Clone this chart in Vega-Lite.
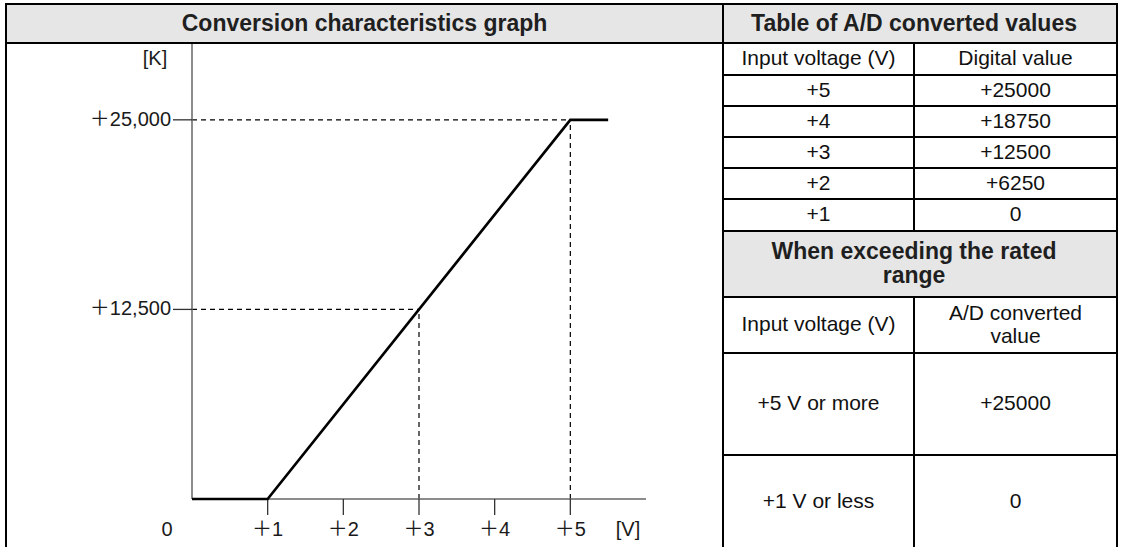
{
  "$schema": "https://vega.github.io/schema/vega-lite/v6.json",
  "width": 1121,
  "height": 547,
  "autosize": {"type": "none"},
  "padding": 0,
  "background": "white",
  "config": {"view": {"stroke": null}},
  "datasets": {
    "cells": [
      {"c0": 0, "c1": 1, "r0": 0, "r1": 1, "kind": "head", "label": "Conversion characteristics graph"},
      {"c0": 1, "c1": 3, "r0": 0, "r1": 1, "kind": "head", "label": "Table of A/D converted values"},
      {"c0": 0, "c1": 1, "r0": 1, "r1": 11, "kind": "body", "label": ""},
      {"c0": 1, "c1": 2, "r0": 1, "r1": 2, "kind": "body", "label": "Input voltage (V)"},
      {"c0": 2, "c1": 3, "r0": 1, "r1": 2, "kind": "body", "label": "Digital value"},
      {"c0": 1, "c1": 2, "r0": 2, "r1": 3, "kind": "body", "label": "+5"},
      {"c0": 2, "c1": 3, "r0": 2, "r1": 3, "kind": "body", "label": "+25000"},
      {"c0": 1, "c1": 2, "r0": 3, "r1": 4, "kind": "body", "label": "+4"},
      {"c0": 2, "c1": 3, "r0": 3, "r1": 4, "kind": "body", "label": "+18750"},
      {"c0": 1, "c1": 2, "r0": 4, "r1": 5, "kind": "body", "label": "+3"},
      {"c0": 2, "c1": 3, "r0": 4, "r1": 5, "kind": "body", "label": "+12500"},
      {"c0": 1, "c1": 2, "r0": 5, "r1": 6, "kind": "body", "label": "+2"},
      {"c0": 2, "c1": 3, "r0": 5, "r1": 6, "kind": "body", "label": "+6250"},
      {"c0": 1, "c1": 2, "r0": 6, "r1": 7, "kind": "body", "label": "+1"},
      {"c0": 2, "c1": 3, "r0": 6, "r1": 7, "kind": "body", "label": "0"},
      {"c0": 1, "c1": 3, "r0": 7, "r1": 8, "kind": "head", "label": ["When exceeding the rated", "range"]},
      {"c0": 1, "c1": 2, "r0": 8, "r1": 9, "kind": "body", "label": "Input voltage (V)"},
      {"c0": 2, "c1": 3, "r0": 8, "r1": 9, "kind": "body", "label": ["A/D converted", "value"]},
      {"c0": 1, "c1": 2, "r0": 9, "r1": 10, "kind": "body", "label": "+5 V or more"},
      {"c0": 2, "c1": 3, "r0": 9, "r1": 10, "kind": "body", "label": "+25000"},
      {"c0": 1, "c1": 2, "r0": 10, "r1": 11, "kind": "body", "label": "+1 V or less"},
      {"c0": 2, "c1": 3, "r0": 10, "r1": 11, "kind": "body", "label": "0"}
    ],
    "curve": [
      {"v": 0, "k": 0},
      {"v": 1, "k": 0},
      {"v": 5, "k": 25000},
      {"v": 5.5, "k": 25000}
    ],
    "guides": [
      {"v": 0, "v2": 5, "k": 25000, "k2": 25000},
      {"v": 5, "v2": 5, "k": 0, "k2": 25000},
      {"v": 0, "v2": 3, "k": 12500, "k2": 12500},
      {"v": 3, "v2": 3, "k": 0, "k2": 12500}
    ],
    "axes": [
      {"v": 0, "v2": 6, "k": 0, "k2": 0},
      {"v": 0, "v2": 0, "k": 0, "k2": 30000}
    ],
    "yticks": [
      {"v": 0, "k": 12500, "label": "＋12,500"},
      {"v": 0, "k": 25000, "label": "＋25,000"}
    ],
    "xticks": [
      {"v": 1, "k": 0, "label": "＋1"},
      {"v": 2, "k": 0, "label": "＋2"},
      {"v": 3, "k": 0, "label": "＋3"},
      {"v": 4, "k": 0, "label": "＋4"},
      {"v": 5, "k": 0, "label": "＋5"}
    ],
    "origin": [{"v": 0, "k": 0, "label": "0"}],
    "vunit": [{"v": 6, "k": 0, "label": "[V]"}],
    "kunit": [{"v": 0, "k": 30000, "label": "[K]"}]
  },
  "layer": [
    {
      "data": {"name": "cells"},
      "transform": [
        {"calculate": "(datum.c0 + datum.c1) / 2", "as": "cx"},
        {"calculate": "(datum.r0 + datum.r1) / 2", "as": "cy"}
      ],
      "layer": [
        {
          "mark": {"type": "rect", "stroke": "#000000", "strokeWidth": 2},
          "encoding": {
            "x": {"field": "c0", "type": "quantitative", "axis": null, "scale": {"domain": [0, 1, 2, 3], "range": [6, 723, 914, 1117], "zero": false, "nice": false}},
            "x2": {"field": "c1"},
            "y": {"field": "r0", "type": "quantitative", "axis": null, "scale": {"domain": [0, 1, 2, 3, 4, 5, 6, 7, 8, 9, 10, 11], "range": [4, 43, 75, 106, 137, 168, 199, 231, 297, 353, 455, 549], "zero": false, "nice": false}},
            "y2": {"field": "r1"},
            "color": {"field": "kind", "type": "nominal", "legend": null, "scale": {"domain": ["head", "body"], "range": ["#e6e6e6", "#ffffff"]}}
          }
        },
        {
          "transform": [{"filter": "datum.kind === 'head' && !isArray(datum.label)"}],
          "mark": {"type": "text", "font": "Liberation Sans", "fontSize": 23, "fontWeight": "bold", "color": "#1f1f1f", "align": "center", "baseline": "middle"},
          "encoding": {
            "x": {"field": "cx", "type": "quantitative", "axis": null, "scale": {"domain": [0, 1, 2, 3], "range": [6, 723, 914, 1117], "zero": false, "nice": false}},
            "y": {"field": "cy", "type": "quantitative", "axis": null, "scale": {"domain": [0, 1, 2, 3, 4, 5, 6, 7, 8, 9, 10, 11], "range": [4, 43, 75, 106, 137, 168, 199, 231, 297, 353, 455, 549], "zero": false, "nice": false}},
            "text": {"field": "label"}
          }
        },
        {
          "transform": [{"filter": "datum.kind === 'head' && isArray(datum.label)"}],
          "mark": {"type": "text", "font": "Liberation Sans", "fontSize": 23, "fontWeight": "bold", "color": "#1f1f1f", "align": "center", "baseline": "middle", "lineHeight": 24, "dy": -12},
          "encoding": {
            "x": {"field": "cx", "type": "quantitative", "axis": null, "scale": {"domain": [0, 1, 2, 3], "range": [6, 723, 914, 1117], "zero": false, "nice": false}},
            "y": {"field": "cy", "type": "quantitative", "axis": null, "scale": {"domain": [0, 1, 2, 3, 4, 5, 6, 7, 8, 9, 10, 11], "range": [4, 43, 75, 106, 137, 168, 199, 231, 297, 353, 455, 549], "zero": false, "nice": false}},
            "text": {"field": "label"}
          }
        },
        {
          "transform": [{"filter": "datum.kind === 'body' && !isArray(datum.label)"}],
          "mark": {"type": "text", "font": "Liberation Sans", "fontSize": 21, "color": "#111111", "align": "center", "baseline": "middle"},
          "encoding": {
            "x": {"field": "cx", "type": "quantitative", "axis": null, "scale": {"domain": [0, 1, 2, 3], "range": [6, 723, 914, 1117], "zero": false, "nice": false}},
            "y": {"field": "cy", "type": "quantitative", "axis": null, "scale": {"domain": [0, 1, 2, 3, 4, 5, 6, 7, 8, 9, 10, 11], "range": [4, 43, 75, 106, 137, 168, 199, 231, 297, 353, 455, 549], "zero": false, "nice": false}},
            "text": {"field": "label"}
          }
        },
        {
          "transform": [{"filter": "datum.kind === 'body' && isArray(datum.label)"}],
          "mark": {"type": "text", "font": "Liberation Sans", "fontSize": 21, "color": "#111111", "align": "center", "baseline": "middle", "lineHeight": 23, "dy": -11},
          "encoding": {
            "x": {"field": "cx", "type": "quantitative", "axis": null, "scale": {"domain": [0, 1, 2, 3], "range": [6, 723, 914, 1117], "zero": false, "nice": false}},
            "y": {"field": "cy", "type": "quantitative", "axis": null, "scale": {"domain": [0, 1, 2, 3, 4, 5, 6, 7, 8, 9, 10, 11], "range": [4, 43, 75, 106, 137, 168, 199, 231, 297, 353, 455, 549], "zero": false, "nice": false}},
            "text": {"field": "label"}
          }
        }
      ]
    },
    {
      "layer": [
        {
          "data": {"name": "guides"},
          "mark": {"type": "rule", "color": "#000000", "strokeWidth": 1.2, "strokeDash": [5, 4]},
          "encoding": {
            "x": {"field": "v", "type": "quantitative", "axis": null, "scale": {"domain": [0, 6], "range": [192, 646], "zero": false, "nice": false}},
            "x2": {"field": "v2"},
            "y": {"field": "k", "type": "quantitative", "axis": null, "scale": {"domain": [0, 30000], "range": [499, 44], "zero": false, "nice": false}},
            "y2": {"field": "k2"}
          }
        },
        {
          "data": {"name": "axes"},
          "mark": {"type": "rule", "color": "#666666", "strokeWidth": 1.5},
          "encoding": {
            "x": {"field": "v", "type": "quantitative", "axis": null, "scale": {"domain": [0, 6], "range": [192, 646], "zero": false, "nice": false}},
            "x2": {"field": "v2"},
            "y": {"field": "k", "type": "quantitative", "axis": null, "scale": {"domain": [0, 30000], "range": [499, 44], "zero": false, "nice": false}},
            "y2": {"field": "k2"}
          }
        },
        {
          "data": {"name": "yticks"},
          "mark": {"type": "rule", "color": "#333333", "strokeWidth": 1.3, "x2Offset": -19},
          "encoding": {
            "x": {"field": "v", "type": "quantitative", "axis": null, "scale": {"domain": [0, 6], "range": [192, 646], "zero": false, "nice": false}},
            "x2": {"field": "v"},
            "y": {"field": "k", "type": "quantitative", "axis": null, "scale": {"domain": [0, 30000], "range": [499, 44], "zero": false, "nice": false}}
          }
        },
        {
          "data": {"name": "xticks"},
          "mark": {"type": "rule", "color": "#333333", "strokeWidth": 1.3, "y2Offset": 16},
          "encoding": {
            "x": {"field": "v", "type": "quantitative", "axis": null, "scale": {"domain": [0, 6], "range": [192, 646], "zero": false, "nice": false}},
            "y": {"field": "k", "type": "quantitative", "axis": null, "scale": {"domain": [0, 30000], "range": [499, 44], "zero": false, "nice": false}},
            "y2": {"field": "k"}
          }
        },
        {
          "data": {"name": "curve"},
          "mark": {"type": "line", "color": "#000000", "strokeWidth": 2.7},
          "encoding": {
            "x": {"field": "v", "type": "quantitative", "axis": null, "scale": {"domain": [0, 6], "range": [192, 646], "zero": false, "nice": false}},
            "y": {"field": "k", "type": "quantitative", "axis": null, "scale": {"domain": [0, 30000], "range": [499, 44], "zero": false, "nice": false}},
            "order": {"field": "v", "type": "quantitative"}
          }
        },
        {
          "data": {"name": "yticks"},
          "mark": {"type": "text", "font": "Liberation Sans, Noto Sans CJK JP", "fontSize": 20, "color": "#1a1a1a", "align": "right", "baseline": "middle", "dx": -21},
          "encoding": {
            "x": {"field": "v", "type": "quantitative", "axis": null, "scale": {"domain": [0, 6], "range": [192, 646], "zero": false, "nice": false}},
            "y": {"field": "k", "type": "quantitative", "axis": null, "scale": {"domain": [0, 30000], "range": [499, 44], "zero": false, "nice": false}},
            "text": {"field": "label"}
          }
        },
        {
          "data": {"name": "xticks"},
          "mark": {"type": "text", "font": "Liberation Sans, Noto Sans CJK JP", "fontSize": 20, "color": "#1a1a1a", "align": "center", "baseline": "middle", "dy": 31},
          "encoding": {
            "x": {"field": "v", "type": "quantitative", "axis": null, "scale": {"domain": [0, 6], "range": [192, 646], "zero": false, "nice": false}},
            "y": {"field": "k", "type": "quantitative", "axis": null, "scale": {"domain": [0, 30000], "range": [499, 44], "zero": false, "nice": false}},
            "text": {"field": "label"}
          }
        },
        {
          "data": {"name": "origin"},
          "mark": {"type": "text", "font": "Liberation Sans, Noto Sans CJK JP", "fontSize": 20, "color": "#1a1a1a", "align": "center", "baseline": "middle", "dx": -25, "dy": 31},
          "encoding": {
            "x": {"field": "v", "type": "quantitative", "axis": null, "scale": {"domain": [0, 6], "range": [192, 646], "zero": false, "nice": false}},
            "y": {"field": "k", "type": "quantitative", "axis": null, "scale": {"domain": [0, 30000], "range": [499, 44], "zero": false, "nice": false}},
            "text": {"field": "label"}
          }
        },
        {
          "data": {"name": "vunit"},
          "mark": {"type": "text", "font": "Liberation Sans, Noto Sans CJK JP", "fontSize": 20, "color": "#1a1a1a", "align": "center", "baseline": "middle", "dx": -18, "dy": 31},
          "encoding": {
            "x": {"field": "v", "type": "quantitative", "axis": null, "scale": {"domain": [0, 6], "range": [192, 646], "zero": false, "nice": false}},
            "y": {"field": "k", "type": "quantitative", "axis": null, "scale": {"domain": [0, 30000], "range": [499, 44], "zero": false, "nice": false}},
            "text": {"field": "label"}
          }
        },
        {
          "data": {"name": "kunit"},
          "mark": {"type": "text", "font": "Liberation Sans, Noto Sans CJK JP", "fontSize": 20, "color": "#1a1a1a", "align": "center", "baseline": "middle", "dx": -37, "dy": 15},
          "encoding": {
            "x": {"field": "v", "type": "quantitative", "axis": null, "scale": {"domain": [0, 6], "range": [192, 646], "zero": false, "nice": false}},
            "y": {"field": "k", "type": "quantitative", "axis": null, "scale": {"domain": [0, 30000], "range": [499, 44], "zero": false, "nice": false}},
            "text": {"field": "label"}
          }
        }
      ]
    }
  ],
  "resolve": {"scale": {"x": "independent", "y": "independent"}}
}
